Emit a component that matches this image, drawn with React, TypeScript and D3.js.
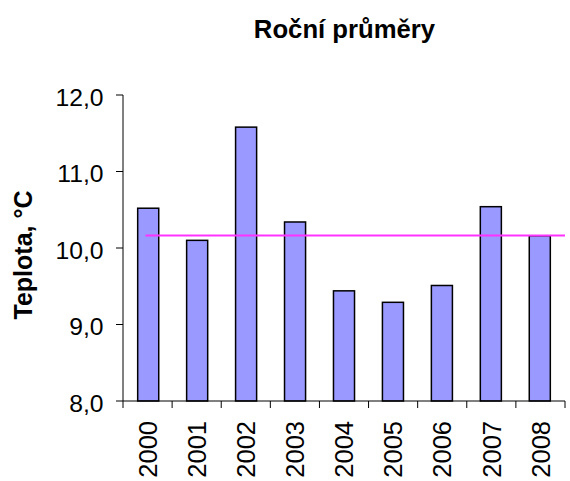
import React from "react";
import * as d3 from "d3";

const years = ["2000", "2001", "2002", "2003", "2004", "2005", "2006", "2007", "2008"];
const temps = [10.52, 10.1, 11.58, 10.34, 9.44, 9.29, 9.51, 10.54, 10.16];
const yTicks = [8, 9, 10, 11, 12];
const title = "Roční průměry";
const yTitle = "Teplota, °C";

export default function App() {
  const W = 570, H = 481;
  const left = 123, right = 565, top = 95, bottom = 401;
  const x = d3.scaleBand().domain(years).range([left, right]).paddingInner(0.57).paddingOuter(0.3);
  const xb = d3.scaleBand().domain(years).range([left, right]);
  const y = d3.scaleLinear().domain([8, 12]).range([bottom, top]);
  const mean = d3.mean(temps) as number;
  const font = "'Liberation Sans', Arial, sans-serif";
  return (
    <svg width={W} height={H} style={{ position: "absolute", left: 0, top: 0 }}>
      <rect width={W} height={H} fill="#fff" />
      <text x={344.5} y={38} textAnchor="middle" fontFamily={font} fontWeight="bold" fontSize={25.7}>{title}</text>
      <text transform={`translate(32,255) rotate(-90)`} textAnchor="middle" fontFamily={font} fontWeight="bold" fontSize={25}>{yTitle}</text>
      {temps.map((v, i) => (
        <rect key={i} x={x(years[i])} y={y(v)} width={x.bandwidth()} height={bottom - y(v)} fill="#9999FF" stroke="#000" strokeWidth={1.5} />
      ))}
      <line x1={xb(years[0])! + xb.bandwidth() / 2 - 2} x2={right} y1={y(mean)} y2={y(mean)} stroke="#FF33FF" strokeWidth={2} />
      <line x1={left} x2={left} y1={top} y2={bottom} stroke="#000" strokeWidth={1} />
      {yTicks.map((t) => (
        <g key={t}>
          <line x1={left - 7} x2={left} y1={y(t)} y2={y(t)} stroke="#000" />
          <text x={103.5} y={y(t) + 10.5} textAnchor="end" fontFamily={font} fontSize={24.7}>{t.toFixed(1).replace(".", ",")}</text>
        </g>
      ))}
      <line x1={left} x2={right} y1={bottom} y2={bottom} stroke="#000" />
      {years.map((yr, i) => (
        <line key={"t" + i} x1={xb(yr)!} x2={xb(yr)!} y1={bottom} y2={bottom + 7} stroke="#000" />
      ))}
      <line x1={right} x2={right} y1={bottom} y2={bottom + 7} stroke="#000" />
      {years.map((yr) => (
        <text key={yr} transform={`translate(${xb(yr)! + xb.bandwidth() / 2 + 9.2},${421}) rotate(-90)`} textAnchor="end" fontFamily={font} fontSize={25.5}>{yr}</text>
      ))}
    </svg>
  );
}
